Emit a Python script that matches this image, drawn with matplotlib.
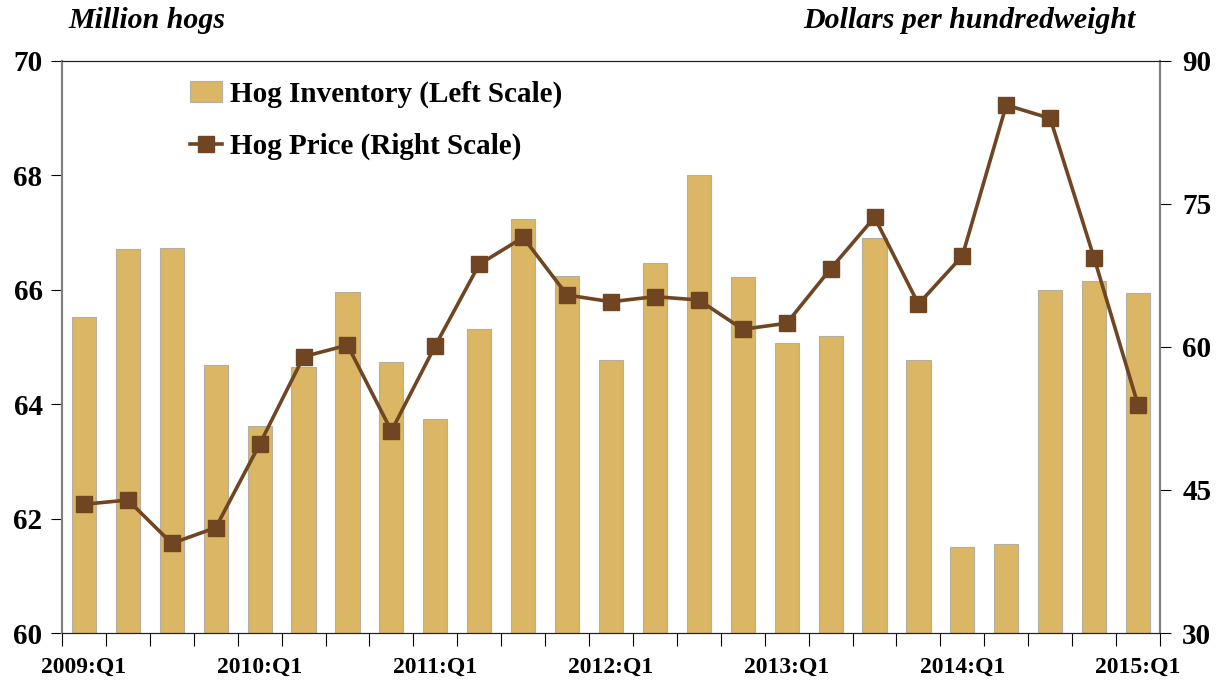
import numpy as np
import matplotlib.pyplot as plt
from matplotlib.ticker import FixedLocator

# Quarterly hog inventory (million head) and hog price ($/cwt), 2009:Q1 - 2015:Q1
quarters = [f"{y}:Q{q}" for y in range(2009, 2016) for q in range(1, 5)][:25]
inventory = [65.52, 66.71, 66.73, 64.68, 63.62, 64.65, 65.97, 64.73, 63.75,
             65.32, 67.24, 66.25, 64.77, 66.47, 68.01, 66.22, 65.07, 65.19,
             66.91, 64.77, 61.50, 61.55, 65.99, 66.15, 65.94]
price = [43.5, 43.95, 39.4, 41.05, 49.8, 58.98, 60.2, 51.2, 60.14,
         68.67, 71.5, 65.45, 64.75, 65.28, 64.93, 61.86, 62.49, 68.2,
         73.6, 64.51, 69.55, 85.38, 83.98, 69.34, 53.92]
label_every = 4

bar_color = '#DBB664'
line_color = '#6F4621'
plt.rcParams['font.family'] = ['Liberation Serif', 'DejaVu Serif']
plt.rcParams['font.weight'] = 'bold'

fig = plt.figure(figsize=(12.24, 6.86), dpi=100)
ax = fig.add_axes([62 / 1224, 1 - 633 / 686, (1160 - 62) / 1224, (633 - 61) / 686])
ax2 = ax.twinx()

x = np.arange(len(quarters))
bars = ax.bar(x, inventory, width=0.55, color=bar_color, edgecolor='#B5AFA0',
              linewidth=0.8, label='Hog Inventory (Left Scale)')
line, = ax2.plot(x, price, color=line_color, lw=2.6, marker='s', markersize=11,
                 label='Hog Price (Right Scale)')

ax.set_xlim(-0.5, len(quarters) - 0.5)
ax.set_ylim(60, 70)
ax.set_yticks([60, 62, 64, 66, 68, 70])
ax2.set_ylim(30, 90)
ax2.set_yticks([30, 45, 60, 75, 90])

# x labels at every 4th quarter, tick marks between categories
ax.set_xticks(x[::label_every])
ax.set_xticklabels(quarters[::label_every])
ax.xaxis.set_minor_locator(FixedLocator(np.arange(-0.5, len(quarters), 1)))
ax.tick_params(axis='x', which='major', length=0, pad=17, labelsize=17)
ax.tick_params(axis='x', which='minor', length=9, width=0.8, direction='out')
ax.tick_params(axis='y', length=8, width=0.8, pad=6, labelsize=21)
ax2.tick_params(axis='y', length=8, width=0.8, pad=8, labelsize=21)

for a in (ax, ax2):
    a.spines['left'].set_color('#808080')
    a.spines['right'].set_color('#808080')
    a.spines['left'].set_linewidth(1.5)
    a.spines['right'].set_linewidth(1.5)
    a.spines['top'].set_color('#222222')
    a.spines['bottom'].set_color('#222222')

fig.text(68 / 1224, 1 - 21 / 686, 'Million hogs', fontsize=21.5, style='italic',
         fontweight='bold', ha='left', va='center')
fig.text(1135 / 1224, 1 - 21 / 686, 'Dollars per hundredweight', fontsize=21.5,
         style='italic', fontweight='bold', ha='right', va='center')

ax2.legend([bars, line], ['Hog Inventory (Left Scale)', 'Hog Price (Right Scale)'],
           loc='upper left', bbox_to_anchor=(0.0956, 1.006), frameon=False,
           fontsize=21, handlelength=1.1, handletextpad=0.25, labelspacing=0.85,
           borderaxespad=0.4)

fig.savefig('out.png', dpi=100)
